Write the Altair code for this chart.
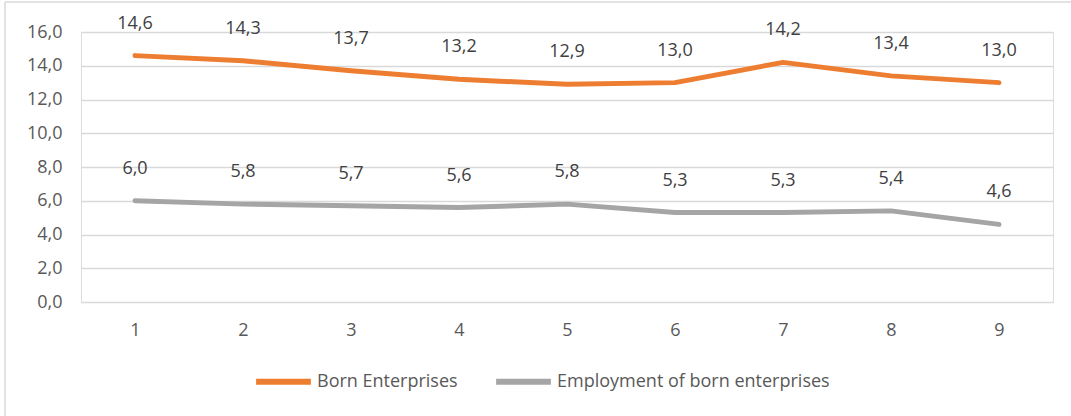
import altair as alt
import pandas as pd

periods = [1, 2, 3, 4, 5, 6, 7, 8, 9]
born = [14.6, 14.3, 13.7, 13.2, 12.9, 13.0, 14.2, 13.4, 13.0]
employment = [6.0, 5.8, 5.7, 5.6, 5.8, 5.3, 5.3, 5.4, 4.6]
series_names = ["Born Enterprises", "Employment of born enterprises"]
colors = ["#ED7D31", "#A5A5A5"]

rows = []
for p, v in zip(periods, born):
    rows.append({"period": p, "value": v, "series": series_names[0]})
for p, v in zip(periods, employment):
    rows.append({"period": p, "value": v, "series": series_names[1]})
df = pd.DataFrame(rows)
df["label"] = df["value"].map(lambda v: f"{v:.1f}".replace(".", ","))

FONT = "Open Sans"

x = alt.X("period:O", title=None,
          axis=alt.Axis(labelAngle=0, domain=False, ticks=False, labelPadding=19,
                        labelFontSize=18, labelColor="#595959", labelFont=FONT))
y = alt.Y("value:Q", title=None,
          scale=alt.Scale(domain=[0, 16], nice=False),
          axis=alt.Axis(values=[0, 2, 4, 6, 8, 10, 12, 14, 16], domain=False, ticks=False,
                        labelPadding=19, labelFontSize=18, labelColor="#595959", labelFont=FONT,
                        gridColor="#d9d9d9", gridWidth=1.5,
                        labelExpr="replace(format(datum.value, '.1f'), '.', ',')"))

color = alt.Color("series:N", sort=series_names,
                  scale=alt.Scale(domain=series_names, range=colors),
                  legend=alt.Legend(title=None, orient="none", direction="horizontal",
                                    legendX=172, legendY=319,
                                    symbolType="stroke", symbolSize=3000, symbolStrokeWidth=6,
                                    labelFontSize=18, labelColor="#595959", labelFont=FONT,
                                    labelOffset=3, columnPadding=26, labelLimit=0))

base = alt.Chart(df)

lines = base.mark_line(strokeWidth=5, strokeCap="round", strokeJoin="round").encode(
    x=x, y=y, color=color)

labels = base.mark_text(dy=-32, fontSize=18, font=FONT, color="#404040").encode(
    x=x, y=y, text="label:N")

border_left = alt.Chart(pd.DataFrame({"a": [0]})).mark_rule(
    color="#d9d9d9", strokeWidth=1.5, clip=False).encode(
    x=alt.value(-76), y=alt.value(-30), y2=alt.value(400))
border_top = alt.Chart(pd.DataFrame({"a": [0]})).mark_rule(
    color="#d9d9d9", strokeWidth=1.5, clip=False).encode(
    x=alt.value(-76), x2=alt.value(1100), y=alt.value(-30))

chart = alt.layer(lines, labels, border_left, border_top).properties(
    width=972, height=270,
    autosize=alt.AutoSizeParams(type="none"),
    padding={"left": 81, "top": 32, "right": 18, "bottom": 114},
).configure_view(stroke=None).configure(background="white")

chart.save("out.html", embed_options={"renderer": "svg", "actions": False})
